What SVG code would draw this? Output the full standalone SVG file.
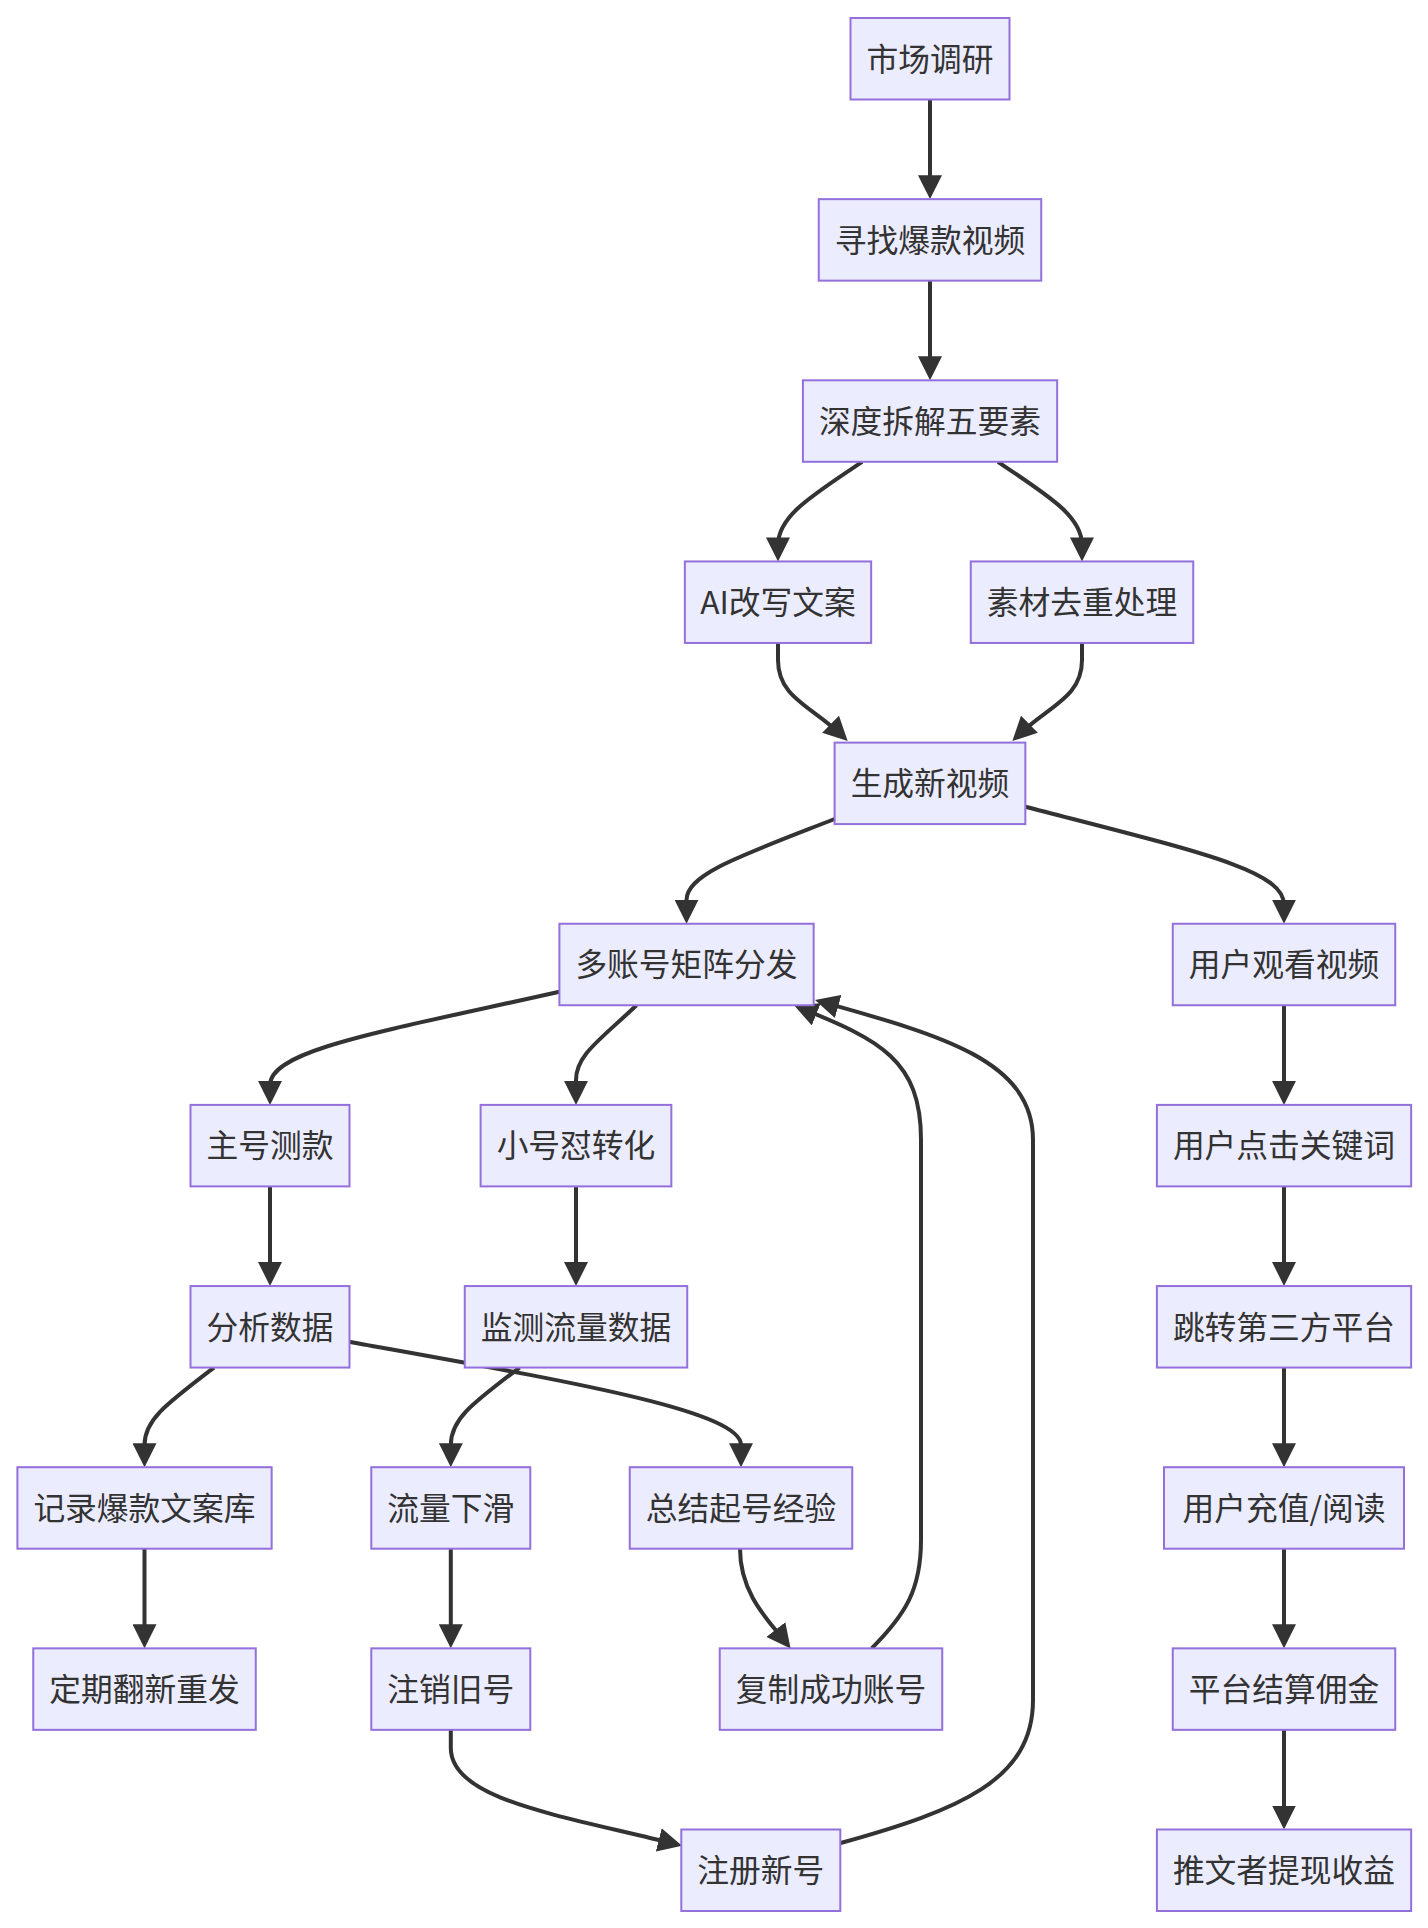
<svg xmlns="http://www.w3.org/2000/svg" width="1428" height="1928" viewBox="0 0 1428 1928">
<style>
.node rect{fill:#ECECFF;stroke:#9370DB;stroke-width:2}
.node text{font-family:"Noto Sans CJK SC","Noto Sans",sans-serif;font-size:31.75px;fill:#333;text-anchor:middle;dominant-baseline:central}
.edges path{fill:none;stroke:#333;stroke-width:4;marker-end:url(#arr)}
</style>
<defs>
<marker id="arr" viewBox="0 0 10 10" refX="7.5" refY="5" markerWidth="24" markerHeight="24" markerUnits="userSpaceOnUse" orient="auto"><path d="M0,0 L10,5 L0,10 z" fill="#333"/></marker>
</defs>
<rect width="1428" height="1928" fill="#fff"/>
<g class="edges" id="edges">
<path d="M930,99.5 L930,193.15"/>
<path d="M930,280.65 L930,374.3"/>
<path d="M862,461.8 C815,494 778,515 778,545 L778,555.45"/>
<path d="M998,461.8 C1045,494 1082,515 1082,545 L1082,555.45"/>
<path d="M778,642.95 L778,660 C778,698 812,706 843.4,736.9"/>
<path d="M1082,642.95 L1082,660 C1082,698 1048,706 1016.6,736.9"/>
<path d="M834.6,819 C740,856 686.5,874 686.5,900 L686.5,917.75"/>
<path d="M1025.35,806.7 C1200,852 1284,870 1284,905 L1284,917.75"/>
<path d="M559.4,991.7 C380,1032 270,1050 270,1085 L270,1098.9"/>
<path d="M636.5,1005.25 C600,1040 576,1055 576,1080 L576,1098.9"/>
<path d="M1284,1005.25 L1284,1098.9"/>
<path d="M270,1186.4 L270,1280.05"/>
<path d="M576,1186.4 L576,1280.05"/>
<path d="M1284,1186.4 L1284,1280.05"/>
<path d="M214,1367.55 C165,1405 144.5,1420 144.5,1445 L144.5,1461.2"/>
<path d="M349,1341.7 C560,1380 741,1410 741,1445 L741,1461.2"/>
<path d="M519.6,1367.55 C470,1405 450.8,1420 450.8,1445 L450.8,1461.2"/>
<path d="M1284,1367.55 L1284,1461.2"/>
<path d="M144.5,1548.7 L144.5,1642.35"/>
<path d="M450.8,1548.7 L450.8,1642.35"/>
<path d="M740,1548.7 C740,1595 770,1622 786.9,1643.7"/>
<path d="M1284,1548.7 L1284,1642.35"/>
<path d="M450.8,1729.85 L450.8,1748 C450.8,1800 560,1815 676.2,1844.3"/>
<path d="M1284,1729.85 L1284,1823.5"/>
<path d="M871.7,1648.35 C905,1615 921,1590 921,1540 L921,1140 C921,1060 880,1040 799.6,1007.6"/>
<path d="M839.7,1843.3 C960,1810 1033,1780 1033,1700 L1033,1140 C1033,1060 940,1035 820.8,1001.6"/>
</g>
<g class="node" id="n1"><rect x="850.5" y="18" width="159" height="81.5"/><text x="930" y="56.5">市场调研</text></g>
<g class="node" id="n2"><rect x="818.75" y="199.15" width="222.5" height="81.5"/><text x="930" y="237.65">寻找爆款视频</text></g>
<g class="node" id="n3"><rect x="802.9" y="380.3" width="254.25" height="81.5"/><text x="930" y="418.8">深度拆解五要素</text></g>
<g class="node" id="n4"><rect x="684.85" y="561.45" width="186.3" height="81.5"/><text x="778" y="599.95">AI改写文案</text></g>
<g class="node" id="n5"><rect x="970.75" y="561.45" width="222.5" height="81.5"/><text x="1082" y="599.95">素材去重处理</text></g>
<g class="node" id="n6"><rect x="834.6" y="742.6" width="190.75" height="81.5"/><text x="930" y="781.1">生成新视频</text></g>
<g class="node" id="n7"><rect x="559.4" y="923.75" width="254.25" height="81.5"/><text x="686.5" y="962.25">多账号矩阵分发</text></g>
<g class="node" id="n8"><rect x="1172.75" y="923.75" width="222.5" height="81.5"/><text x="1284" y="962.25">用户观看视频</text></g>
<g class="node" id="n9"><rect x="190.5" y="1104.9" width="159" height="81.5"/><text x="270" y="1143.4">主号测款</text></g>
<g class="node" id="n10"><rect x="480.6" y="1104.9" width="190.75" height="81.5"/><text x="576" y="1143.4">小号怼转化</text></g>
<g class="node" id="n11"><rect x="1156.9" y="1104.9" width="254.25" height="81.5"/><text x="1284" y="1143.4">用户点击关键词</text></g>
<g class="node" id="n12"><rect x="190.5" y="1286.05" width="159" height="81.5"/><text x="270" y="1324.55">分析数据</text></g>
<g class="node" id="n13"><rect x="464.75" y="1286.05" width="222.5" height="81.5"/><text x="576" y="1324.55">监测流量数据</text></g>
<g class="node" id="n14"><rect x="1156.9" y="1286.05" width="254.25" height="81.5"/><text x="1284" y="1324.55">跳转第三方平台</text></g>
<g class="node" id="n15"><rect x="17.4" y="1467.2" width="254.25" height="81.5"/><text x="144.5" y="1505.7">记录爆款文案库</text></g>
<g class="node" id="n16"><rect x="371.3" y="1467.2" width="159" height="81.5"/><text x="450.8" y="1505.7">流量下滑</text></g>
<g class="node" id="n17"><rect x="629.75" y="1467.2" width="222.5" height="81.5"/><text x="741" y="1505.7">总结起号经验</text></g>
<g class="node" id="n18"><rect x="1164" y="1467.2" width="240" height="81.5"/><text x="1284" y="1505.7">用户充值/阅读</text></g>
<g class="node" id="n19"><rect x="33.25" y="1648.35" width="222.5" height="81.5"/><text x="144.5" y="1686.85">定期翻新重发</text></g>
<g class="node" id="n20"><rect x="371.3" y="1648.35" width="159" height="81.5"/><text x="450.8" y="1686.85">注销旧号</text></g>
<g class="node" id="n21"><rect x="719.75" y="1648.35" width="222.5" height="81.5"/><text x="831" y="1686.85">复制成功账号</text></g>
<g class="node" id="n22"><rect x="1172.75" y="1648.35" width="222.5" height="81.5"/><text x="1284" y="1686.85">平台结算佣金</text></g>
<g class="node" id="n23"><rect x="681.3" y="1829.5" width="159" height="81.5"/><text x="760.8" y="1868">注册新号</text></g>
<g class="node" id="n24"><rect x="1156.9" y="1829.5" width="254.25" height="81.5"/><text x="1284" y="1868">推文者提现收益</text></g>
</svg>
